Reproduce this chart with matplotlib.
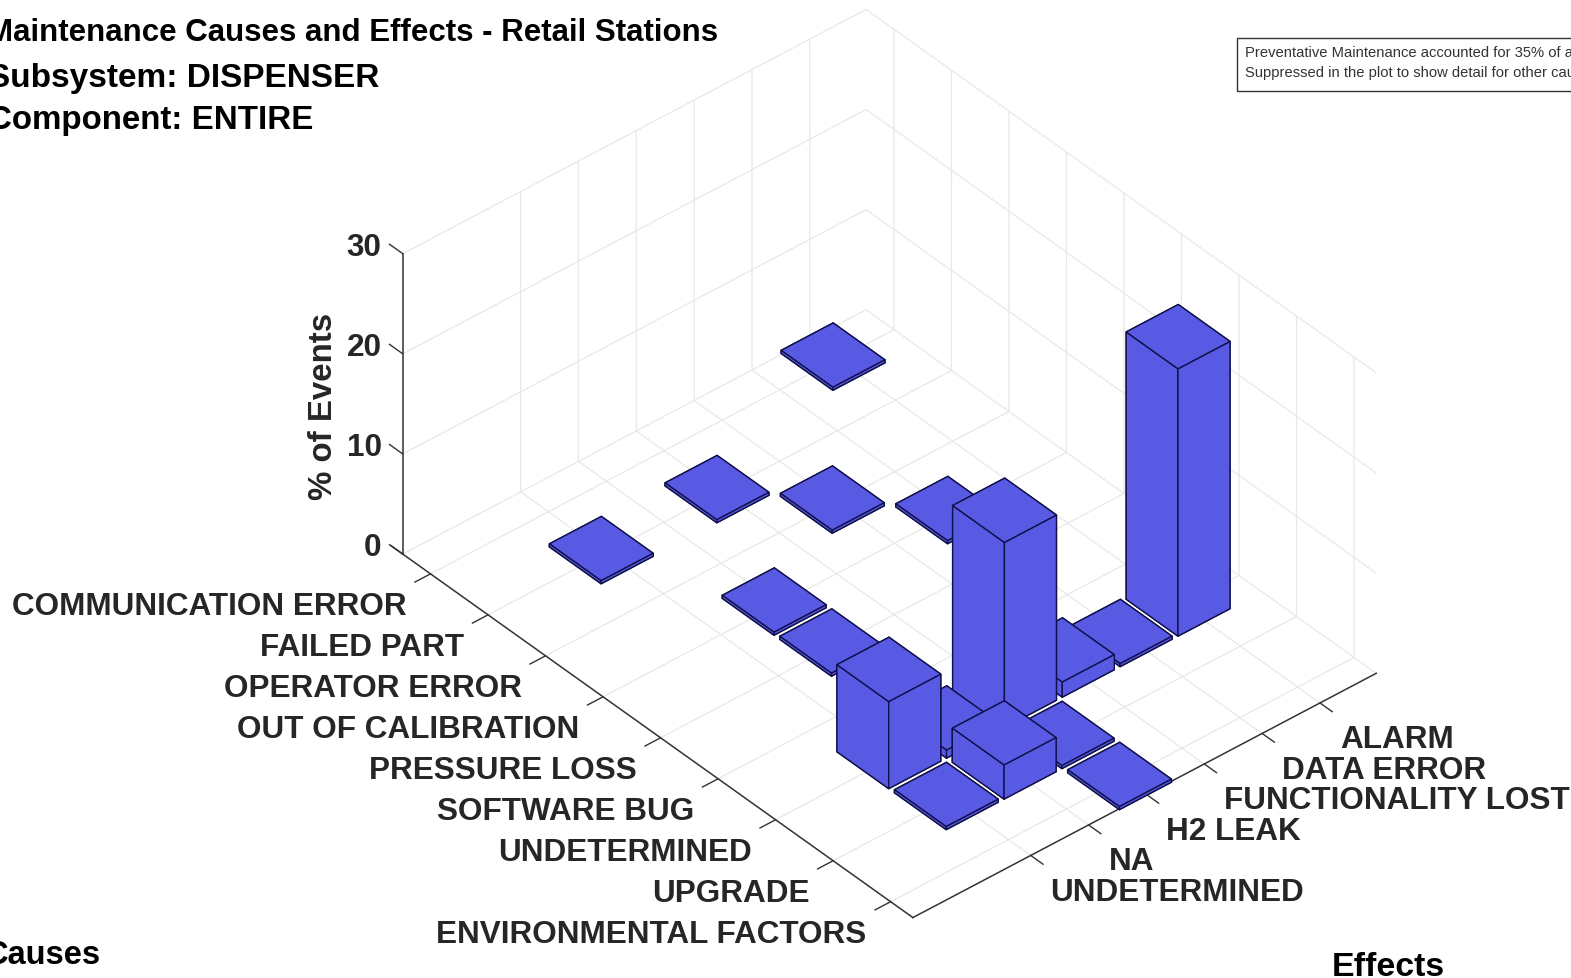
"""3D bar chart of maintenance causes and effects for retail station dispensers."""

import numpy as np
import matplotlib
matplotlib.use('Agg')
import matplotlib.pyplot as plt
from matplotlib.patches import Rectangle

plt.rcParams['font.family'] = ['Liberation Sans', 'DejaVu Sans']

# data
causes = ['COMMUNICATION ERROR', 'FAILED PART', 'OPERATOR ERROR', 'OUT OF CALIBRATION',
          'PRESSURE LOSS', 'SOFTWARE BUG', 'UNDETERMINED', 'UPGRADE', 'ENVIRONMENTAL FACTORS']
effects = ['ALARM', 'DATA ERROR', 'FUNCTIONALITY LOST', 'H2 LEAK', 'NA', 'UNDETERMINED']
z_ticks = [0, 10, 20, 30]

bar_cause = [0, 1, 1, 2, 3, 3, 4, 6, 6, 6, 6, 6, 6, 7, 7, 7, 8]
bar_effect = [0, 5, 3, 2, 1, 4, 4, 5, 4, 3, 2, 1, 0, 5, 4, 3, 3]
bar_value = [0.3, 0.3, 0.3, 0.3, 0.3, 0.3, 0.3, 8.7, 0.8, 18.5, 1.5, 0.3, 26.7, 0.3, 3.4, 0.3, 0.3]

title_lines = ['Maintenance Causes and Effects - Retail Stations',
               'Subsystem: DISPENSER', 'Component: ENTIRE']
note_lines = ['Preventative Maintenance accounted for 35% of all events.',
              'Suppressed in the plot to show detail for other causes.']

W, H = 1571, 979
bar_color = '#585AE4'
dark = '#262626'
grid = '#E8E8E8'
axis_color = '#333333'
width = 0.9
x_min, x_max = 0.067, 8.937
y_min, y_max = -0.007, 8.003

cause_pos = np.arange(len(causes)) + 0.5
effect_pos = 7 - np.arange(len(effects))


def fx(x):
    return x / W


def fy(y):
    return 1 - y / H


fig = plt.figure(figsize=(W / 100, H / 100), dpi=100)

# axes is square, 1032 px, placed so the box lands where the reference has it
side = 1032
ax = fig.add_axes([fx(889.5 - 0.5135 * side), fy(464.5 + 0.5135 * side), side / W, side / H],
                  projection='3d', proj_type='ortho', computed_zorder=False)
ax.view_init(elev=37.8, azim=-40.7)
ax.set_box_aspect((782, 611, 380))
ax.patch.set_alpha(0)

# the ticks in the source sit slightly off the bar centres
ax.set_xticks(cause_pos + 0.05)
ax.set_yticks(effect_pos + 0.03)
ax.set_zticks(z_ticks)
ax.set_xticklabels([])
ax.set_yticklabels([])
ax.set_zticklabels([])
ax.zaxis.set_ticks_position('lower')

for axis, factor in zip((ax.xaxis, ax.yaxis, ax.zaxis), (0.42, 0.3, 0)):
    axis.set_pane_color('white')
    axis.pane.set_edgecolor('none')
    axis.line.set_color(axis_color)
    axis.line.set_linewidth(1.1)
    axis._axinfo['grid'].update(color=grid, linewidth=0.9)
    axis._axinfo['tick'].update(inward_factor=factor, outward_factor=0)
    axis._axinfo['tick']['linewidth'] = {True: 1.0, False: 0.5}
    axis._axinfo['tick']['color'] = axis_color
ax.tick_params(colors=axis_color, length=0)

# z ticks point back along the cause axis, and that axis runs a little past the corner
for val in z_ticks:
    ax.plot([x_min, x_min - 0.23], [y_min, y_min], [val, val], color=axis_color, lw=1.0,
            zorder=5, clip_on=False)
ax.plot([x_min, x_min - 0.2], [y_min, y_min], [0, 0], color=axis_color, lw=1.1,
        zorder=5, clip_on=False)

# bars back to front so that the nearer ones cover the farther ones
order = sorted(range(len(bar_value)), key=lambda k: (bar_cause[k], bar_effect[k]))
for n, k in enumerate(order):
    ax.bar3d(cause_pos[bar_cause[k]] - width / 2, effect_pos[bar_effect[k]] - width / 2, 0,
             width, width, bar_value[k], color=bar_color, edgecolor='#10104A',
             linewidth=1.0, shade=False, zorder=10 + n)

ax.set_xlim(x_min, x_max)
ax.set_ylim(y_min, y_max)
ax.set_zlim(0, 30)

# tick labels
label_size = 22.7
for pos, name in zip(cause_pos, causes):
    ax.text(pos + 0.33, -0.70, 0, name, ha='right', va='center', color=dark,
            fontsize=label_size, fontweight='bold', zorder=100)
for pos, name in zip(effect_pos, effects):
    ax.text(9.59, pos - 0.276, 0, name, ha='left', va='center', color=dark,
            fontsize=label_size, fontweight='bold', zorder=100)
for val in z_ticks:
    ax.text(-0.07, -0.235, val + 0.85, str(val), ha='right', va='center', color=dark,
            fontsize=label_size, fontweight='bold', zorder=100)

fig.text(fx(323), fy(406.5), '% of Events', rotation=90, ha='center', va='center',
         color=dark, fontsize=23.8, fontweight='bold')
fig.text(fx(-15), fy(956), 'Causes', ha='left', va='center', color='black',
         fontsize=23.5, fontweight='bold')
fig.text(fx(1332), fy(968), 'Effects', ha='left', va='center', color='black',
         fontsize=24.4, fontweight='bold')

# title block, cut by the left edge as in the source image
for x, y, size, line in zip((-13, -12, -12), (33, 78, 121), (22.5, 24, 23.9), title_lines):
    fig.text(fx(x), fy(y), line, ha='left', va='center', color='black',
             fontsize=size, fontweight='bold')

# note box
fig.add_artist(Rectangle((fx(1237), fy(91.5)), 400 / W, 53 / H, transform=fig.transFigure,
                         facecolor='white', edgecolor=axis_color, linewidth=1.0))
for y, line in zip((53, 73), note_lines):
    fig.text(fx(1245), fy(y), line, ha='left', va='center', color='#333333', fontsize=10.6)

fig.savefig('out.png', dpi=100)
